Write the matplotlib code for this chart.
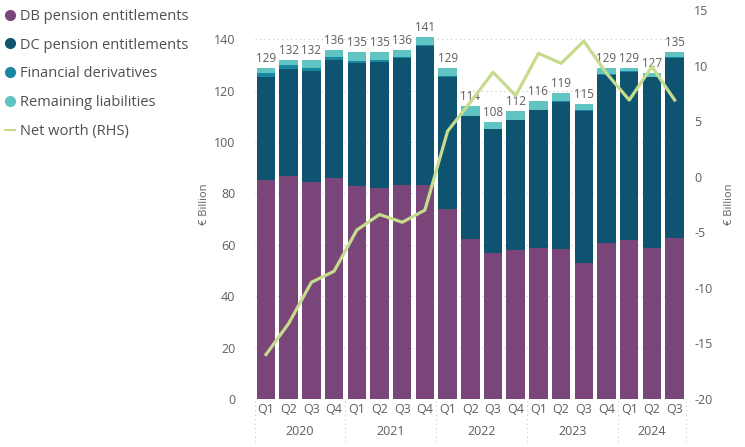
import matplotlib
matplotlib.use("Agg")
import matplotlib.pyplot as plt
from matplotlib.lines import Line2D
import numpy as np

plt.rcParams['font.family'] = ['Open Sans', 'DejaVu Sans']
plt.rcParams['axes.unicode_minus'] = False

quarters = ["Q1", "Q2", "Q3", "Q4", "Q1", "Q2", "Q3", "Q4", "Q1", "Q2",
            "Q3", "Q4", "Q1", "Q2", "Q3", "Q4", "Q1", "Q2", "Q3"]
years = ["2020", "2021", "2022", "2023", "2024"]
year_counts = [4, 4, 4, 4, 3]

db_pension = [85.2, 86.7, 84.4, 86.2, 82.8, 82.3, 83.2, 83.2, 74.1, 62.1,
              57.0, 57.9, 58.8, 58.5, 52.9, 60.7, 61.9, 58.9, 62.6]
dc_pension = [40.3, 41.8, 43.3, 45.7, 47.8, 48.8, 49.6, 54.3, 51.3, 48.1,
              48.1, 50.5, 53.7, 57.2, 59.3, 65.6, 65.5, 66.5, 70.3]
fin_deriv = [1.3, 1.5, 1.2, 1.2, 0.9, 0.7, 0.4, 0.2, 0.2, 0.1,
             0.1, 0.1, 0.1, 0.1, 0.1, 0.1, 0.1, 0.1, 0.1]
remaining = [2.2, 2.0, 3.1, 2.9, 3.5, 3.2, 2.8, 3.3, 3.4, 3.7,
             2.8, 3.5, 3.4, 3.2, 2.7, 2.6, 1.5, 1.5, 2.0]
net_worth = [-16.0, -13.2, -9.5, -8.5, -4.8, -3.4, -4.1, -3.0, 4.1, 6.7,
             9.4, 7.3, 11.1, 10.2, 12.2, 9.3, 6.9, 9.9, 6.9]

c_db = '#7a4579'
c_dc = '#0e5470'
c_fd = '#1b86a0'
c_rem = '#5fc4c2'
c_line = '#c6db8c'
txt = '#605e5c'

fig = plt.figure(figsize=(7.45, 4.47), dpi=100)
ax = fig.add_axes([0.3418, 0.1074, 0.579, 0.8702])
ax2 = ax.twinx()

x = np.arange(len(quarters))
w = 0.815
b1 = np.array(db_pension)
b2 = b1 + np.array(dc_pension)
b3 = b2 + np.array(fin_deriv)
tot = b3 + np.array(remaining)

ax.bar(x, db_pension, w, color=c_db, zorder=2)
ax.bar(x, dc_pension, w, bottom=b1, color=c_dc, zorder=2)
ax.bar(x, fin_deriv, w, bottom=b2, color=c_fd, zorder=2)
ax.bar(x, remaining, w, bottom=b3, color=c_rem, zorder=2)

# total labels above each stack
for xi, t in zip(x, tot):
    ax.annotate('{:.0f}'.format(t), xy=(xi, t), xytext=(0, 2),
                textcoords="offset points", ha='center', va='bottom',
                fontsize=8.4, color=txt, zorder=5)

ax.set_xlim(-0.5, len(quarters) - 0.5)
ax.set_ylim(0, 151.4)
ax.set_yticks(range(0, 141, 20))
ax.grid(axis='y', linestyle=(0, (1, 3)), color='#c8c8c8', linewidth=0.8, zorder=0)
ax.set_axisbelow(True)

ax2.plot(x, net_worth, color=c_line, linewidth=2.3, zorder=4)
ax2.set_ylim(-20, 15)
ax2.set_yticks(range(-20, 16, 5))
ax2.patch.set_visible(False)

for a in (ax, ax2):
    for s in a.spines.values():
        s.set_visible(False)
    a.tick_params(length=0, labelsize=9, labelcolor=txt)

ax.tick_params(axis='y', pad=14)
ax2.tick_params(axis='y', pad=6)

ax.set_xticks(x)
ax.set_xticklabels(quarters)
ax.tick_params(axis='x', pad=3)

ax.set_ylabel('€ Billion', fontsize=8, color=txt, labelpad=3)
ax2.set_ylabel('€ Billion', fontsize=8, color=txt, rotation=90, labelpad=8)

# year labels and dotted separators
start = 0
for yr, n in zip(years, year_counts):
    center = start + (n - 1) / 2
    ax.text(center, -0.068, yr, transform=ax.get_xaxis_transform(),
            ha='center', va='top', fontsize=9, color=txt)
    ax.axvline(start - 0.5, ymin=-0.11, ymax=0, color='#c8c8c8',
               linestyle=(0, (1, 3)), linewidth=0.8, clip_on=False)
    start += n
ax.axvline(start - 0.5, ymin=-0.11, ymax=0, color='#c8c8c8',
           linestyle=(0, (1, 3)), linewidth=0.8, clip_on=False)

handles = [
    Line2D([], [], marker='o', linestyle='', markersize=7, color=c_db),
    Line2D([], [], marker='o', linestyle='', markersize=7, color=c_dc),
    Line2D([], [], marker='o', linestyle='', markersize=7, color=c_fd),
    Line2D([], [], marker='o', linestyle='', markersize=7, color=c_rem),
    Line2D([], [], color=c_line, linewidth=1.5),
]
labels = ['DB pension entitlements', 'DC pension entitlements',
          'Financial derivatives', 'Remaining liabilities', 'Net worth (RHS)']
leg = fig.legend(handles, labels, loc='upper left', bbox_to_anchor=(-0.005, 1.0),
                 frameon=False, fontsize=10.5, handlelength=0.7,
                 handletextpad=0.3, labelspacing=0.95, borderaxespad=0.2)
for t in leg.get_texts():
    t.set_color('#505050')

fig.savefig('out.png', dpi=100)
